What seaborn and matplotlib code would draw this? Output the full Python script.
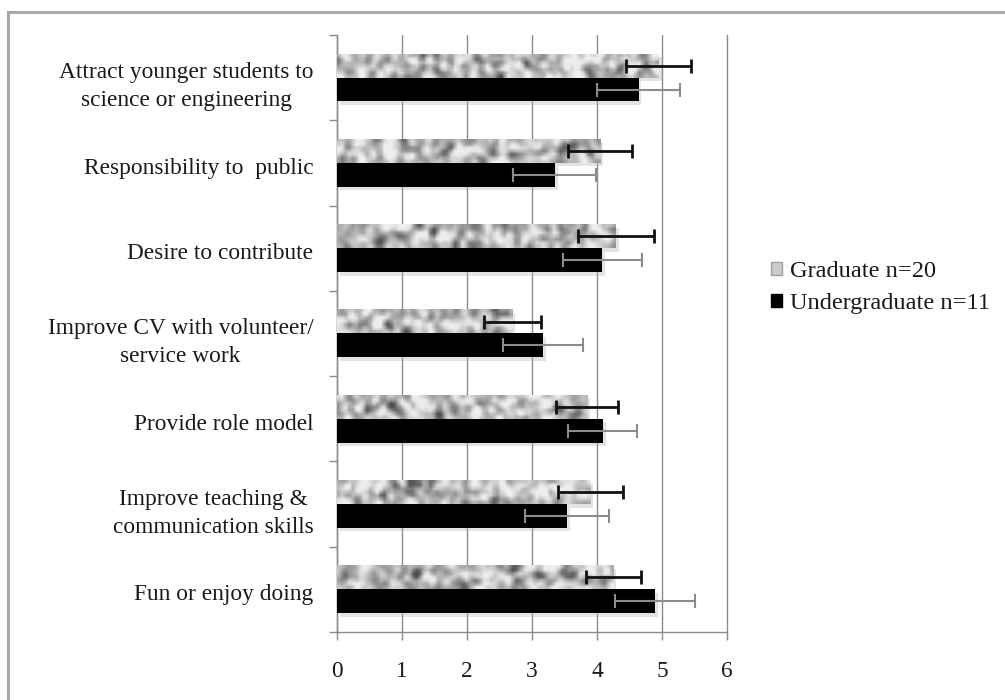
import numpy as np
import pandas as pd
import seaborn as sns
import matplotlib
matplotlib.use("Agg")
import matplotlib.pyplot as plt
from matplotlib import patheffects as pe
from matplotlib import transforms as mtrans
from matplotlib.patches import Patch, Rectangle
from matplotlib.ticker import FixedLocator

# ---- data -------------------------------------------------------------
items = [
    "Attract younger students to\nscience or engineering",
    "Responsibility to  public",
    "Desire to contribute",
    "Improve CV with volunteer/\nservice work",
    "Provide role model",
    "Improve teaching &\ncommunication skills",
    "Fun or enjoy doing",
]
groups = ["Graduate n=20", "Undergraduate n=11"]
grad_mean = [4.95, 4.05, 4.29, 2.70, 3.85, 3.90, 4.25]
grad_sd = [0.50, 0.49, 0.58, 0.44, 0.48, 0.50, 0.42]
under_mean = [4.64, 3.35, 4.08, 3.17, 4.09, 3.54, 4.89]
under_sd = [0.64, 0.64, 0.61, 0.62, 0.53, 0.64, 0.62]
x_ticks = [0, 1, 2, 3, 4, 5, 6]

df = pd.DataFrame({
    "item": items * 2,
    "group": [groups[0]] * len(items) + [groups[1]] * len(items),
    "score": grad_mean + under_mean,
})

# ---- style ------------------------------------------------------------
sns.set_theme(style="white")
plt.rcParams["font.family"] = ["Liberation Serif", "DejaVu Serif"]
plt.rcParams["text.color"] = "#1a1a1a"
plt.rcParams["xtick.color"] = "#8a8a8a"
plt.rcParams["ytick.color"] = "#8a8a8a"
plt.rcParams["xtick.labelcolor"] = "#1a1a1a"
plt.rcParams["ytick.labelcolor"] = "#1a1a1a"

FS = 16.8

fig = plt.figure(figsize=(10.05, 7.0), dpi=100)
ax = fig.add_axes([0.3353, 0.0971, 0.3881, 0.853])

palette = {groups[0]: "#c4c4c4", groups[1]: "black"}
sns.barplot(data=df, x="score", y="item", hue="group", hue_order=groups,
            order=items, orient="h", palette=palette, width=0.56,
            errorbar=None, legend=False, ax=ax, zorder=3)

shadow = [pe.SimplePatchShadow(offset=(2, -2.5), shadow_rgbFace="#b0b0b0", alpha=0.35),
          pe.Normal()]

# granite-like texture for the graduate bars
rng = np.random.default_rng(11)


def granite(rows, cols):
    base = rng.normal(size=(rows, cols))
    k = np.array([1, 2, 1], float)
    k /= k.sum()
    sm = np.apply_along_axis(lambda r: np.convolve(r, k, mode="same"), 1, base)
    sm = np.apply_along_axis(lambda c: np.convolve(c, k, mode="same"), 0, sm)
    sm = sm / sm.std()
    return np.clip(0.73 + 0.15 * sm, 0.28, 0.93)


sd_lists = [grad_sd, under_sd]
mean_lists = [grad_mean, under_mean]
err_style = [dict(ecolor="#111111", elinewidth=2.0, capsize=5, capthick=2.0),
             dict(ecolor="#8c8c8c", elinewidth=1.5, capsize=5, capthick=1.5)]

for gi, cont in enumerate(ax.containers[:2]):
    ys = []
    for p in cont.patches:
        p.set_path_effects(shadow)
        p.set_edgecolor("none")
        ys.append(p.get_y() + p.get_height() / 2)
        if gi == 0:
            w = p.get_width()
            cols = max(int(w * 65 / 3.5), 4)
            img = granite(7, cols)
            ax.imshow(img, cmap="gray", vmin=0, vmax=1, aspect="auto",
                      interpolation="bilinear",
                      extent=(0, w, p.get_y() + p.get_height(), p.get_y()),
                      zorder=3.5)
    ax.errorbar(mean_lists[gi], ys, xerr=sd_lists[gi], fmt="none",
                zorder=5, **err_style[gi])

ax.set_xlim(0, 6)
ax.set_ylim(6.5, -0.5)
ax.set_xlabel("")
ax.set_ylabel("")

# axes / grid
ax.set_xticks(x_ticks)
ax.set_xticklabels([str(t) for t in x_ticks])
ax.xaxis.grid(True, color="#8a8a8a", lw=1.0, zorder=0)
for gl in ax.get_xgridlines():
    gl.set_clip_on(False)
ax.yaxis.grid(False)
ax.set_axisbelow(True)
for s in ["top", "right"]:
    ax.spines[s].set_visible(False)
for s in ["left", "bottom"]:
    ax.spines[s].set_color("#8a8a8a")
    ax.spines[s].set_linewidth(1.0)

ax.yaxis.set_minor_locator(FixedLocator(np.arange(-0.5, 7, 1.0)))
ax.tick_params(axis="y", which="major", length=0, pad=17, labelsize=FS)
ax.tick_params(axis="y", which="minor", length=6, width=1, direction="out", left=True)
ax.tick_params(axis="x", which="major", length=6, width=1, direction="out",
               bottom=True, pad=15, labelsize=FS)
shift_down = mtrans.ScaledTranslation(0, -3 / 100, fig.dpi_scale_trans)
for lab in ax.get_yticklabels():
    lab.set_multialignment("center")
    lab.set_linespacing(1.45)
    lab.set_transform(lab.get_transform() + shift_down)

# legend
handles = [Patch(facecolor="#cccccc", edgecolor="#a0a0a0", label=groups[0]),
           Patch(facecolor="black", edgecolor="black", label=groups[1])]
fig.legend(handles=handles, loc="center left", bbox_to_anchor=(0.757, 0.589),
           frameon=False, fontsize=17.6, handlelength=0.48, handleheight=0.48,
           handletextpad=0.33, labelspacing=0.45, borderaxespad=0)

# chart frame
fig.patches.append(Rectangle((8 / 1005, -0.2), 1.5, 0.983 + 0.2,
                             transform=fig.transFigure, fill=False,
                             edgecolor="#a9a9a9", lw=2.2, zorder=-1))

fig.savefig("out.png", dpi=100)
